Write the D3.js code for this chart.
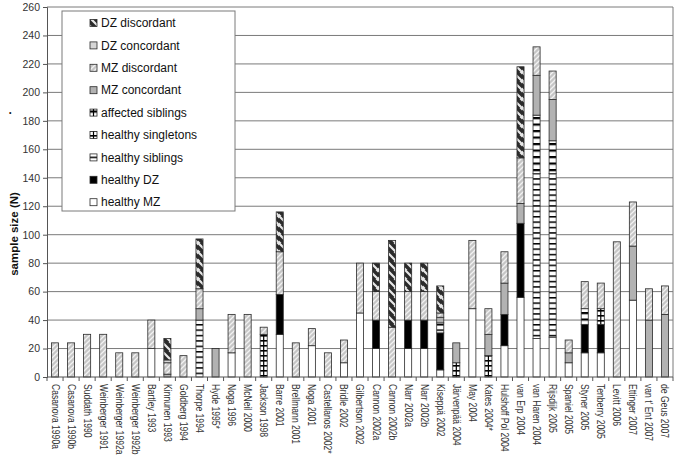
<!DOCTYPE html>
<html><head><meta charset="utf-8">
<script src="https://cdn.jsdelivr.net/npm/d3@7"></script>
<style>body{margin:0;background:#fff} svg{display:block} text{font-family:"Liberation Sans",Arial,sans-serif}</style>
</head><body><svg id="c" width="679" height="460"></svg>
<script>
const categories = ["Casanova 1990a","Casanova 1990b","Suddath 1990","Weinberger 1991","Weinberger 1992a","Weinberger 1992b","Bartley 1993","Kinnunen 1993","Goldberg 1994","Thorpe 1994","Hyde 1995*","Noga 1996","McNeil 2000","Jackson 1998","Barre 2001","Brellmann 2001","Noga 2001","Castellanos 2002*","Bridle 2002","Gilbertson 2002","Cannon 2002a","Cannon 2002b","Narr 2002a","Narr 2002b","Kiseppä 2002","Järvenpää 2004","May 2004","Kates 2004*","Hulshoff Pol 2004","van Erp 2004","van Haren 2004","Rijsdijk 2005","Spaniel 2005","Styner 2005","Tenberry 2005","Levitt 2006","Ettinger 2007","van t' Ent 2007","de Geus 2007"];
const healthyMZ        = [0,0,0,0,0,0,20,0,0,0,0,17,0,0,30,0,22,0,10,45,20,0,20,20,5,0,48,0,22,56,27,28,10,17,17,0,54,0,0];
const healthyDZ        = [0,0,0,0,0,0,0,0,0,0,0,0,0,0,28,0,0,0,0,0,20,0,20,20,26,0,0,0,22,52,0,0,0,20,20,0,0,0,0];
const healthySiblings  = [0,0,0,0,0,0,0,0,0,40,0,0,0,0,0,0,0,0,0,0,0,0,0,0,7,0,0,0,0,0,116,115,0,0,0,0,0,0,0];
const healthySingletons= [0,0,0,0,0,0,0,0,0,0,0,0,0,30,0,0,0,0,0,0,0,0,0,0,0,10,0,15,0,0,0,0,0,0,11,0,0,0,0];
const affectedSiblings = [0,0,0,0,0,0,0,0,0,0,0,0,0,0,0,0,0,0,0,0,0,0,0,0,0,0,0,0,0,0,41,23,0,11,0,0,0,0,0];
const mzConcordant     = [0,0,0,0,0,0,0,2,0,8,20,0,0,0,0,0,0,0,0,0,0,0,0,0,4,14,0,15,22,14,28,29,7,0,0,0,38,40,44];
const mzDiscordant     = [24,24,30,30,17,17,20,8,15,14,0,27,44,5,30,24,12,17,16,35,20,35,20,20,3,0,48,18,22,32,20,20,9,19,18,95,31,22,20];
const dzConcordant     = [0,0,0,0,0,0,0,2,0,0,0,0,0,0,0,0,0,0,0,0,0,0,0,0,0,0,0,0,0,0,0,0,0,0,0,0,0,0,0];
const dzDiscordant     = [0,0,0,0,0,0,0,15,0,35,0,0,0,0,28,0,0,0,0,0,20,61,20,20,19,0,0,0,0,64,0,0,0,0,0,0,0,0,0];
const seriesNames = ["healthy MZ","healthy DZ","healthy siblings","healthy singletons","affected siblings","MZ concordant","MZ discordant","DZ concordant","DZ discordant"];
const seriesValues = [healthyMZ,healthyDZ,healthySiblings,healthySingletons,affectedSiblings,mzConcordant,mzDiscordant,dzConcordant,dzDiscordant];
const yTickValues = [0,20,40,60,80,100,120,140,160,180,200,220,240,260];
const yTitle = "sample size (N)";

const svg = d3.select("#c");
const defs = svg.append("defs");
function pat(id,w,h,bg,draw){
  const p = defs.append("pattern").attr("id",id).attr("patternUnits","userSpaceOnUse").attr("width",w).attr("height",h);
  p.append("rect").attr("width",w).attr("height",h).attr("fill",bg);
  draw(p);
}
pat("mzd",5,5,"#c6c6c6",p=>p.append("path").attr("d","M-1,1 L1,-1 M0,5 L5,0 M4,6 L6,4").attr("stroke","#f2f2f2").attr("stroke-width",1.3));
pat("dzd",9,9,"#2b2b2b",p=>p.append("path").attr("d","M-2,6 L3,11 M0,0 L9,9 M6,-2 L11,3").attr("stroke","#e8e8e8").attr("stroke-width",2.2));
pat("hsib",10,5.4,"#fff",p=>p.append("rect").attr("width",10).attr("height",1.5).attr("fill","#000"));
pat("hsing",10,5,"#fff",p=>p.append("rect").attr("width",10).attr("height",1.6).attr("fill","#000"));
pat("asib",10,6.5,"#fff",p=>p.append("rect").attr("width",10).attr("height",2.2).attr("fill","#000"));
const fills = ["#ffffff","#000000","url(#hsib)","url(#hsing)","url(#asib)","#b2b2b2","url(#mzd)","#d6d6d6","url(#dzd)"];

const x = d3.scaleBand().domain(categories).range([47,673]).paddingInner(0.56).paddingOuter(0.28);
const y = d3.scaleLinear().domain([0,260]).range([377,7]);

// gridlines
svg.append("g").selectAll("line").data(yTickValues.filter(d=>d>0)).join("line")
  .attr("x1",47).attr("x2",673).attr("y1",d=>y(d)).attr("y2",d=>y(d))
  .attr("stroke","#7a7a7a").attr("stroke-width",1);
svg.append("line").attr("x1",673).attr("x2",673).attr("y1",y(260)).attr("y2",y(0)).attr("stroke","#7a7a7a");

// stacked bars
const table = categories.map((c,i)=>{const o={cat:c}; seriesNames.forEach((s,k)=>o[s]=seriesValues[k][i]); return o;});
const stacked = d3.stack().keys(seriesNames)(table);
const gBars = svg.append("g");
stacked.forEach((layer,k)=>{
  gBars.append("g").selectAll("rect").data(layer.filter(d=>d[1]-d[0]>0)).join("rect")
    .attr("x",d=>x(d.data.cat)).attr("width",x.bandwidth())
    .attr("y",d=>y(d[1])).attr("height",d=>y(d[0])-y(d[1]))
    .attr("fill",fills[k]).attr("stroke","#2a2a2a").attr("stroke-width",0.8);
  if (seriesNames[k]==="healthy singletons"){
    gBars.append("g").selectAll("line").data(layer.filter(d=>d[1]-d[0]>0)).join("line")
      .attr("x1",d=>x(d.data.cat)+x.bandwidth()/2).attr("x2",d=>x(d.data.cat)+x.bandwidth()/2)
      .attr("y1",d=>y(d[1])).attr("y2",d=>y(d[0])).attr("stroke","#000").attr("stroke-width",1.2);
  }
});

// axes
const yAxis = d3.axisLeft(y).tickValues(yTickValues).tickSize(4).tickPadding(3);
const gy = svg.append("g").attr("transform","translate(47,0)").call(yAxis);
gy.select(".domain").attr("stroke","#555");
gy.selectAll(".tick line").attr("stroke","#555");
gy.selectAll("text").attr("font-size",10.5).attr("fill","#333").attr("font-family","Liberation Sans, Arial, sans-serif");

svg.append("line").attr("x1",47).attr("x2",673).attr("y1",y(0)).attr("y2",y(0)).attr("stroke","#555");
const step = x.step();
svg.append("g").selectAll("line").data(d3.range(categories.length+1)).join("line")
  .attr("x1",i=>47+i*step).attr("x2",i=>47+i*step).attr("y1",y(0)).attr("y2",y(0)+4).attr("stroke","#555");
svg.append("g").selectAll("text").data(categories).join("text")
  .attr("transform",d=>`translate(${x(d)+x.bandwidth()/2},384) rotate(90) scale(0.86,1)`)
  .attr("dy","0.35em").attr("font-size",10).attr("fill","#333").text(d=>d);

// y title
svg.append("text").attr("transform","translate(18,234) rotate(-90)").attr("text-anchor","middle")
  .attr("font-size",11.5).attr("font-weight","bold").attr("fill","#111").text(yTitle);
svg.append("text").attr("x",9).attr("y",115).attr("font-size",7).attr("fill","#111").text("•");

// legend
const lg = svg.append("g");
lg.append("rect").attr("x",62).attr("y",11).attr("width",173).attr("height",200).attr("fill","#fff").attr("stroke","#7a7a7a");
const legendOrder = d3.range(seriesNames.length).reverse();
legendOrder.forEach((k,i)=>{
  const cy = 23 + i*22.4;
  lg.append("rect").attr("x",90).attr("y",cy-3.5).attr("width",7).attr("height",7).attr("fill",fills[k]).attr("stroke","#2a2a2a").attr("stroke-width",0.8);
  if (seriesNames[k]==="healthy singletons"||seriesNames[k]==="affected siblings")
    lg.append("line").attr("x1",93.5).attr("x2",93.5).attr("y1",cy-3.5).attr("y2",cy+3.5).attr("stroke","#000").attr("stroke-width",1.2);
  lg.append("text").attr("x",101).attr("y",cy).attr("dy","0.35em").attr("font-size",12).attr("fill","#111").text(seriesNames[k]);
});
</script></body></html>
